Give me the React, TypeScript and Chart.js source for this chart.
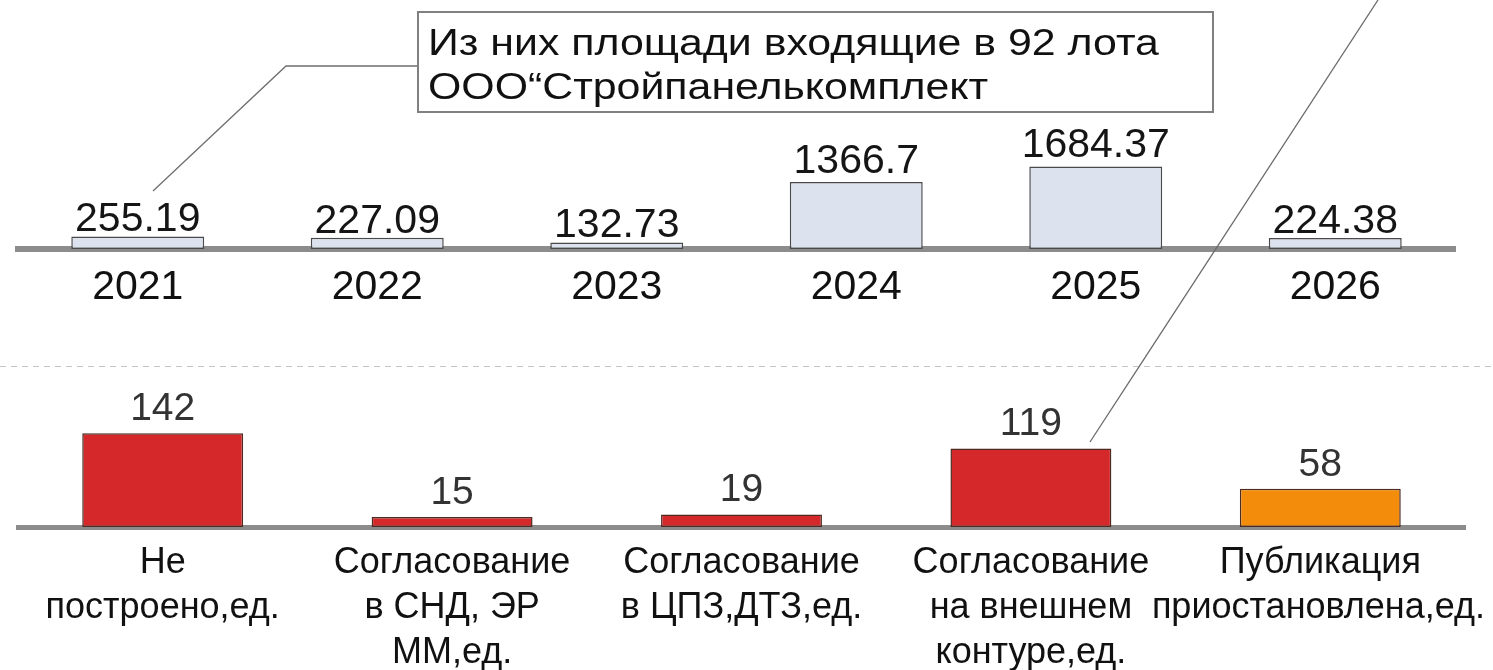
import React, { useEffect, useRef } from 'react';
import { Chart, registerables } from 'chart.js';

Chart.register(...registerables);

// ---------- data ----------
const years = ['2021', '2022', '2023', '2024', '2025', '2026'];
const areaValues = [255.19, 227.09, 132.73, 1366.7, 1684.37, 224.38];

const statusCategories = [
  ['Не', 'построено,ед.'],
  ['Согласование', 'в СНД, ЭР', 'ММ,ед.'],
  ['Согласование', 'в ЦПЗ,ДТЗ,ед.'],
  ['Согласование', 'на внешнем', 'контуре,ед.'],
  ['Публикация', 'приостановлена,ед.'],
];
const statusValues = [142, 15, 19, 119, 58];
const statusColors = ['#d5282a', '#d5282a', '#d5282a', '#d5282a', '#f28c0a'];

const calloutLines = ['Из них площади входящие в 92 лота', 'ООО“Стройпанелькомплект'];

const FONT = "'Liberation Sans', Arial, sans-serif";
const BOTTOM_TOP = 360;
const CALLOUT_STRETCH = 1.19;

function drawRightDiagonal(ctx: CanvasRenderingContext2D, offsetY: number) {
  ctx.save();
  ctx.strokeStyle = '#6a6a6a';
  ctx.lineWidth = 1.3;
  ctx.beginPath();
  ctx.moveTo(1378, 0 - offsetY);
  ctx.lineTo(1090, 442 - offsetY);
  ctx.stroke();
  ctx.restore();
}

const topDecor = {
  id: 'topDecor',
  afterDatasetsDraw(chart: any) {
    const ctx: CanvasRenderingContext2D = chart.ctx;
    const meta = chart.getDatasetMeta(0);
    ctx.save();
    // value labels
    ctx.font = `41px ${FONT}`;
    ctx.fillStyle = '#151515';
    ctx.textAlign = 'center';
    ctx.textBaseline = 'alphabetic';
    meta.data.forEach((el: any, i: number) => {
      const gap = el.height > 30 ? 9 : 5;
      ctx.fillText(String(areaValues[i]), el.x, el.y - gap);
    });
    // callout connector
    ctx.strokeStyle = '#6e6e6e';
    ctx.lineWidth = 1.3;
    ctx.beginPath();
    ctx.moveTo(153, 191);
    ctx.lineTo(286, 66);
    ctx.lineTo(418, 66);
    ctx.stroke();
    // callout box
    ctx.fillStyle = '#ffffff';
    ctx.fillRect(418, 12, 795, 100);
    ctx.strokeStyle = '#808080';
    ctx.lineWidth = 2;
    ctx.strokeRect(418, 12, 795, 100);
    ctx.fillStyle = '#111111';
    ctx.font = `36px ${FONT}`;
    ctx.textAlign = 'left';
    ctx.textBaseline = 'middle';
    calloutLines.forEach((t, i) => {
      ctx.save();
      ctx.translate(428, 45 + i * 44);
      ctx.scale(CALLOUT_STRETCH, 1);
      ctx.fillText(t, 0, 0);
      ctx.restore();
    });
    ctx.restore();
    drawRightDiagonal(ctx, 0);
  },
};

const bottomDecor = {
  id: 'bottomDecor',
  afterDatasetsDraw(chart: any) {
    const ctx: CanvasRenderingContext2D = chart.ctx;
    const meta = chart.getDatasetMeta(0);
    const area = chart.chartArea;
    ctx.save();
    // dashed separator
    ctx.strokeStyle = '#c4c4c4';
    ctx.lineWidth = 1;
    ctx.setLineDash([6, 5]);
    ctx.beginPath();
    ctx.moveTo(0, 6.5);
    ctx.lineTo(chart.width, 6.5);
    ctx.stroke();
    ctx.setLineDash([]);
    // value labels
    ctx.font = `39px ${FONT}`;
    ctx.fillStyle = '#333333';
    ctx.textAlign = 'center';
    ctx.textBaseline = 'alphabetic';
    meta.data.forEach((el: any, i: number) => {
      ctx.fillText(String(statusValues[i]), el.x, el.y - 13);
    });
    // category labels
    ctx.font = `36px ${FONT}`;
    ctx.fillStyle = '#111111';
    ctx.textBaseline = 'middle';
    meta.data.forEach((el: any, i: number) => {
      statusCategories[i].forEach((line, j) => {
        const w = ctx.measureText(line).width;
        let cx = el.x;
        if (cx + w / 2 > chart.width - 8) cx = chart.width - 8 - w / 2;
        if (cx - w / 2 < 0) cx = w / 2;
        ctx.fillText(line, cx, area.bottom + 36 + j * 45);
      });
    });
    ctx.restore();
    drawRightDiagonal(ctx, BOTTOM_TOP);
  },
};

export default function App() {
  const topRef = useRef<HTMLCanvasElement>(null);
  const bottomRef = useRef<HTMLCanvasElement>(null);

  useEffect(() => {
    const top = new Chart(topRef.current as HTMLCanvasElement, {
      type: 'bar',
      data: {
        labels: years,
        datasets: [
          {
            data: areaValues,
            backgroundColor: '#dce3ee',
            borderColor: '#4a4a4a',
            borderWidth: 1.5,
            borderSkipped: false,
            barPercentage: 0.555,
            categoryPercentage: 1,
          },
        ],
      },
      options: {
        responsive: false,
        animation: false,
        layout: { padding: { left: 18, right: 38, top: 102, bottom: 0 } },
        plugins: { legend: { display: false }, tooltip: { enabled: false } },
        scales: {
          x: {
            grid: { display: false, drawTicks: false },
            border: { display: true, color: '#8c8c8c', width: 6 },
            ticks: {
              color: '#111111',
              font: { family: FONT, size: 41 },
              padding: 14,
              maxRotation: 0,
              autoSkip: false,
            },
            afterFit: (s: any) => {
              s.height = 111;
            },
          },
          y: { display: false, min: 0, max: 3000 },
        },
      },
      plugins: [topDecor],
    } as any);

    const bottom = new Chart(bottomRef.current as HTMLCanvasElement, {
      type: 'bar',
      data: {
        labels: statusCategories,
        datasets: [
          {
            data: statusValues,
            backgroundColor: statusColors,
            borderColor: '#4d2a22',
            borderWidth: 1.5,
            borderSkipped: false,
            barPercentage: 0.556,
            categoryPercentage: 1,
          },
        ],
      },
      options: {
        responsive: false,
        animation: false,
        layout: { padding: { left: 18, right: 28, top: 35, bottom: 0 } },
        plugins: { legend: { display: false }, tooltip: { enabled: false } },
        scales: {
          x: {
            grid: { display: false, drawTicks: false },
            border: { display: true, color: '#8c8c8c', width: 5 },
            ticks: { display: false },
            afterFit: (s: any) => {
              s.height = 143;
            },
          },
          y: { display: false, min: 0, max: 200 },
        },
      },
      plugins: [bottomDecor],
    } as any);

    return () => {
      top.destroy();
      bottom.destroy();
    };
  }, []);

  return (
    <div
      style={{
        position: 'absolute',
        left: 0,
        top: 0,
        width: 1493,
        height: 670,
        background: '#ffffff',
        overflow: 'hidden',
      }}
    >
      <canvas
        ref={topRef}
        width={1493}
        height={360}
        style={{ position: 'absolute', left: 0, top: 0 }}
      />
      <canvas
        ref={bottomRef}
        width={1493}
        height={310}
        style={{ position: 'absolute', left: 0, top: BOTTOM_TOP }}
      />
    </div>
  );
}
